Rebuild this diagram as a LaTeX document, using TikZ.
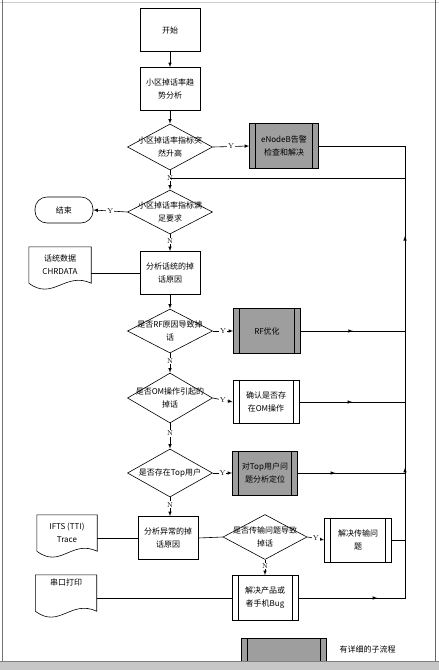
\documentclass[tikz,border=0pt]{standalone}
\usepackage{fontspec}
\newfontfamily\cjk{Noto Sans CJK SC}
\usetikzlibrary{shapes.geometric}
\usetikzlibrary{calc}
\usetikzlibrary{decorations.markings}

\tikzset{
  txt/.style={font=\cjk\fontsize{8}{13}\selectfont, align=center},
  box/.style={txt, draw, line width=0.6pt, minimum width=60, minimum height=43, inner sep=1pt},
  subproc/.style={box, path picture={
      \draw[line width=0.6pt] ([xshift=6pt]path picture bounding box.north west) -- ([xshift=6pt]path picture bounding box.south west);
      \draw[line width=0.6pt] ([xshift=-6pt]path picture bounding box.north east) -- ([xshift=-6pt]path picture bounding box.south east);}},
  grey/.style={fill=black!38},
  dec/.style={draw, line width=0.6pt, diamond, minimum width=85, minimum height=46, inner sep=0pt},
  dlab/.style={txt, inner sep=0pt},
  term/.style={txt, draw, line width=0.6pt, rounded corners=12, minimum width=58, minimum height=26},
  doc/.style={txt, minimum width=62, minimum height=36, inner sep=1pt},
  yn/.style={fill=white, inner sep=1pt, font=\fontsize{7}{7}\selectfont},
  arr/.style={-latex, line width=0.6pt},
  line/.style={line width=0.6pt},
  midarr/.style={postaction={decorate}, decoration={markings, mark=at position #1 with {\arrow{latex}}}}
}

\begin{document}
\begin{tikzpicture}[x=1pt, y=-1pt]
\useasboundingbox (0,0) rectangle (439,670);

% page frame
\draw[black!20] (0,2) -- (439,2);
\draw[black!55, line width=1pt] (2,0) -- (2,661);
\draw[black!60, line width=0.8pt] (435,0) -- (435,661);

% main column
\node[box] (start) at (170,30) {开始};
\node[box] (trend) at (170,89) {小区掉话率趋\\势分析};
\node[dec, label={[dlab]center:小区掉话率指标突\\然升高}] (d1) at (170,147) {};
\node[subproc, grey, minimum width=69, minimum height=45] (alarm) at (284,146) {eNodeB告警\\检查和解决};
\node[dec, minimum height=44, label={[dlab]center:小区掉话率指标满\\足要求}] (d2) at (170,212) {};
\node[term] (end) at (64,210) {结束};
\node[box] (ana) at (170,273) {分析话统的掉\\话原因};
\node[dec, minimum height=44, label={[dlab]center:是否RF原因导致掉\\话}] (d3) at (170,331) {};
\node[subproc, grey, minimum width=67, minimum height=45] (rf) at (267,331) {RF优化};
\node[dec, minimum height=50, label={[dlab]center:是否OM操作引起的\\掉话}] (d4) at (170,398) {};
\node[subproc, minimum width=66] (om) at (266,402) {确认是否存\\在OM操作};
\node[dec, minimum height=48, label={[dlab]center:是否存在Top用户}] (d5) at (170,473) {};
\node[subproc, grey, minimum width=65, minimum height=44] (top) at (265,473) {对Top用户问\\题分析定位};
\node[box] (abn) at (168,538) {分析异常的掉\\话原因};
\node[dec, minimum width=84, minimum height=45, label={[dlab]center:是否传输问题导致\\掉话}] (d6) at (265,537) {};
\node[subproc, minimum width=67, minimum height=44] (tr) at (358,540) {解决传输问\\题};
\node[subproc, minimum width=66, minimum height=45] (bug) at (265,598) {解决产品或\\者手机Bug};

% documents
\node[doc] (chr) at (60,265) {话统数据\\CHRDATA};
\node[doc, minimum width=60] (ifts) at (67,533) {IFTS (TTI)\\Trace};
\node[doc, minimum width=61] (serial) at (66,593) {串口打印\\[8pt]};
\foreach \d in {chr,ifts,serial}
  \draw[line] (\d.north west) -- (\d.north east) -- (\d.south east)
    .. controls ($(\d.south east)+(-26,-12)$) and ($(\d.south west)+(24,18)$) .. (\d.south west) -- cycle;

% return points
\coordinate (join) at (405,178);
\coordinate (merge) at (170,178);
\coordinate (bugret) at (bug.east -| join);

% connectors
\draw[arr] (start) -- (trend);
\draw[arr] (trend) -- (d1);
\draw[arr] (d1.east) -- node[yn]{Y} (alarm.west);
\draw[arr] (d1.south) -- node[yn, pos=0.4]{N} (d2.north);
\draw[line] (alarm.east) -| (join) -- (merge);
\draw[arr] (d2.west) -- node[yn]{Y} (end.east);
\draw[arr] (d2.south) -- node[yn, pos=0.4]{N} (ana.north);
\draw[line] (ana.west -| chr.east) -- (ana.west);
\draw[arr] (ana) -- (d3);
\draw[arr] (d3.east) -- node[yn]{Y} (rf.west);
\draw[line, midarr=0.5] (rf.east) -- (rf.east -| join);
\draw[arr] (d3.south) -- node[yn, pos=0.4]{N} (d4.north);
\draw[arr] (d4.east) -- node[yn]{Y} (om.west);
\draw[line, midarr=0.5] (om.east) -- (om.east -| join);
\draw[arr] (d4.south) -- node[yn, pos=0.4]{N} (d5.north);
\draw[arr] (d5.east) -- node[yn]{Y} (top.west);
\draw[line, midarr=0.35] (top.east) -- (top.east -| join);
\draw[arr] (d5.south) -- node[yn, pos=0.4]{N} (abn.north -| d5.south);
\draw[line] (abn.west -| ifts.east) -- (abn.west);
\draw[line] (abn.east) -- (d6.west);
\draw[arr] (d6.east) -- node[yn]{Y} (tr.west);
\draw[line] (tr.east) -- (tr.east -| join);
\draw[arr] (d6.south) -- node[yn, pos=0.4]{N} (bug.north);
\draw[line] (bug.west -| serial.east) -- (bug.west);
\draw[line, postaction={decorate}, decoration={markings,
    mark=at position 0.15 with {\arrow{latex}},
    mark=at position 0.45 with {\arrow{latex}},
    mark=at position 0.89 with {\arrow{latex}}}]
  (bug.east) -- (bugret) -- (join);

% legend
\node[subproc, grey, minimum width=85, minimum height=24] (legend) at (284,650) {};
\node[txt, anchor=west] (legtext) at (336,649) {有详细的子流程};

% bottom band
\fill[black!22] (0,661) rectangle (439,670);
\draw[black!50] (0,661) -- (439,661);

\end{tikzpicture}
\end{document}
